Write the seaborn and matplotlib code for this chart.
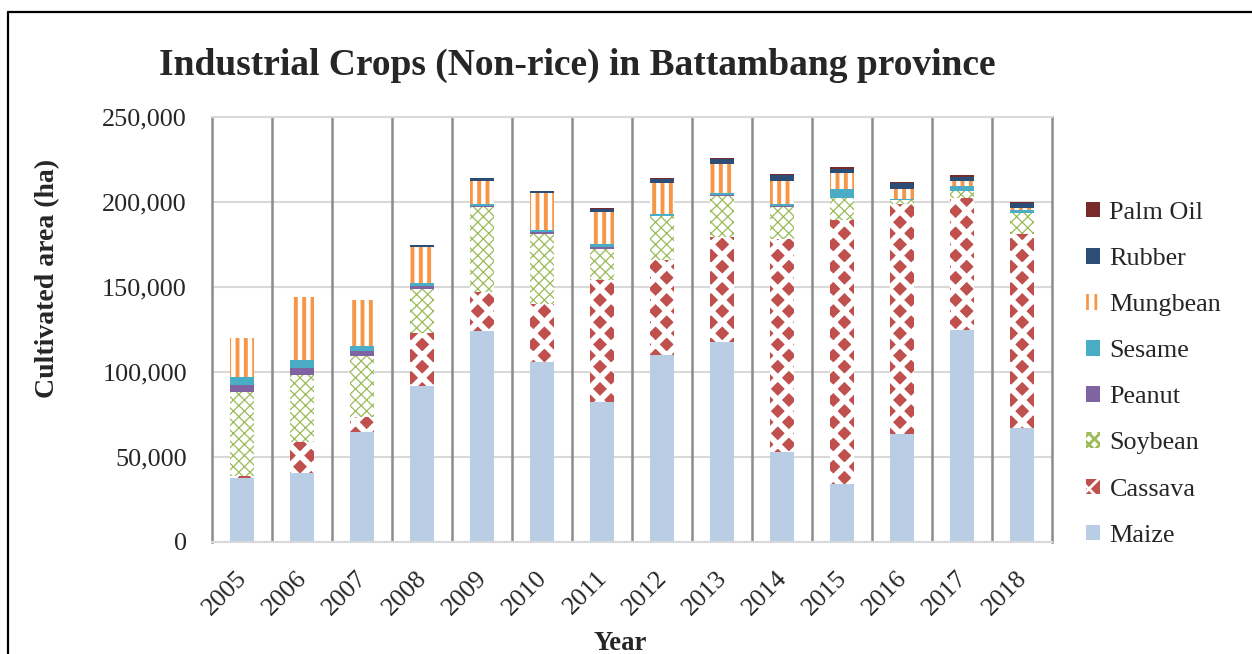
import pandas as pd
import matplotlib.pyplot as plt
import matplotlib.transforms as mtransforms
import seaborn as sns
from matplotlib.patches import Patch
from matplotlib.lines import Line2D
from matplotlib.ticker import FuncFormatter

# values (ha)
years = [str(y) for y in range(2005, 2019)]
maize = [37500, 40800, 64500, 91800, 124100, 105700, 82500, 110000, 117800, 53100, 34100, 63500, 124700, 67200]
cassava = [1500, 18200, 9200, 31000, 23100, 34300, 71500, 56000, 61800, 124900, 155300, 135100, 77800, 113800]
soybean = [49000, 39200, 35700, 26100, 50000, 41200, 18200, 25600, 24100, 19000, 12800, 2600, 4000, 12300]
peanut = [4300, 4300, 3100, 1800, 600, 800, 1000, 300, 300, 300, 0, 0, 0, 300]
sesame = [4900, 4700, 3000, 1800, 1200, 1500, 2200, 1000, 1100, 1200, 5400, 600, 3100, 1400]
mungbean = [23000, 36900, 26800, 21200, 13500, 21600, 18400, 18100, 17200, 13800, 9600, 5800, 2900, 1600]
rubber = [0, 0, 0, 1200, 1600, 1500, 2200, 2300, 3000, 3300, 2400, 3400, 2400, 2500]
palm_oil = [0, 0, 0, 0, 0, 0, 600, 600, 500, 600, 800, 600, 800, 800]

crops = ['Maize', 'Cassava', 'Soybean', 'Peanut', 'Sesame', 'Mungbean', 'Rubber', 'Palm Oil']

df = pd.DataFrame({
    'Year': years,
    'Maize': maize,
    'Cassava': cassava,
    'Soybean': soybean,
    'Peanut': peanut,
    'Sesame': sesame,
    'Mungbean': mungbean,
    'Rubber': rubber,
    'Palm Oil': palm_oil,
})
cum = df[crops].cumsum(axis=1)

# face, hatch colour, hatch, hatch linewidth
styles = {
    'Maize': ('#b9cde5', '#b9cde5', '', 0.5),
    'Cassava': ('#c0504d', 'white', 'xxx', 2.1),
    'Soybean': ('white', '#9bbb59', 'xxxxxx', 0.45),
    'Peanut': ('#8064a2', '#8064a2', '', 0.5),
    'Sesame': ('#4bacc6', '#4bacc6', '', 0.5),
    'Mungbean': ('white', '#f79646', '||||', 1.4),
    'Rubber': ('#2c4d75', '#2c4d75', '', 0.5),
    'Palm Oil': ('#772c2a', '#772c2a', '', 0.5),
}

sns.set_style('white')
plt.rcParams['font.family'] = ['Liberation Serif', 'DejaVu Serif']

fig = plt.figure(figsize=(6.26, 3.27), dpi=200)
ax = fig.add_axes([0.1693, 0.1713, 0.671, 0.65])

# stacked bars: draw cumulative totals from the top layer down
for crop in reversed(crops):
    fc, ec, hatch, hlw = styles[crop]
    n0 = len(ax.patches)
    with plt.rc_context({'hatch.linewidth': hlw}):
        sns.barplot(x=df['Year'], y=cum[crop], color=fc, saturation=1,
                    width=0.4, errorbar=None, ax=ax)
        for p in ax.patches[n0:]:
            p.set_facecolor(fc)
            p.set_edgecolor(ec)
            p.set_hatch(hatch if hatch else None)
            p.set_linewidth(0)
            if hasattr(p, 'set_hatch_linewidth'):
                p.set_hatch_linewidth(hlw)

ax.set_xlim(-0.5, len(years) - 0.5)
ax.set_ylim(0, 250000)
ax.set_yticks(range(0, 250001, 50000))
ax.yaxis.set_major_formatter(FuncFormatter(lambda v, _: f'{int(v):,}'))
ax.set_xlabel('')
ax.set_ylabel('')

ax.yaxis.grid(True, color='#d9d9d9', lw=0.75)
ax.set_axisbelow(True)
for i in range(len(years) - 1):
    ax.axvline(i + 0.5, color='#8c8c8c', lw=0.9, zorder=0.8)

for side in ['left', 'right']:
    ax.spines[side].set_color('#8c8c8c')
    ax.spines[side].set_linewidth(0.9)
for side in ['top', 'bottom']:
    ax.spines[side].set_color('#d9d9d9')
    ax.spines[side].set_linewidth(0.75)

ax.tick_params(axis='y', length=0, pad=9, labelsize=9.4)
ax.tick_params(axis='x', length=0, pad=9, labelsize=9.4)
shift = mtransforms.ScaledTranslation(-6 / 200, 0, fig.dpi_scale_trans)
for lab in ax.get_xticklabels():
    lab.set_rotation(45)
    lab.set_ha('right')
    lab.set_rotation_mode('anchor')
    lab.set_transform(lab.get_transform() + shift)

fig.text(0.4609, 0.9006, 'Industrial Crops (Non-rice) in Battambang province',
         ha='center', va='center', fontsize=13.5, fontweight='bold')
fig.text(0.0383, 0.574, 'Cultivated area (ha)', rotation=90,
         ha='center', va='center', fontsize=10, fontweight='bold')
fig.text(0.495, 0.016, 'Year', ha='center', va='center',
         fontsize=9.6, fontweight='bold')

handles = []
for crop in reversed(crops):
    fc, ec, hatch, hlw = styles[crop]
    with plt.rc_context({'hatch.linewidth': hlw}):
        h = Patch(facecolor=fc, edgecolor=ec, hatch=hatch if hatch else None, linewidth=0)
    handles.append(h)
fig.legend(handles, list(reversed(crops)), loc='upper left',
           bbox_to_anchor=(0.8674, 0.6915), frameon=False, fontsize=9.4,
           handlelength=0.55, handleheight=0.55, handletextpad=0.35,
           labelspacing=0.92, borderaxespad=0, borderpad=0)

# outer frame (top and left edges visible)
fig.add_artist(Line2D([8 / 1252, 1], [1 - 12 / 654, 1 - 12 / 654],
                      transform=fig.transFigure, color='black', lw=0.8))
fig.add_artist(Line2D([8 / 1252, 8 / 1252], [0, 1 - 12 / 654],
                      transform=fig.transFigure, color='black', lw=0.8))

fig.savefig('out.png', dpi=200)
